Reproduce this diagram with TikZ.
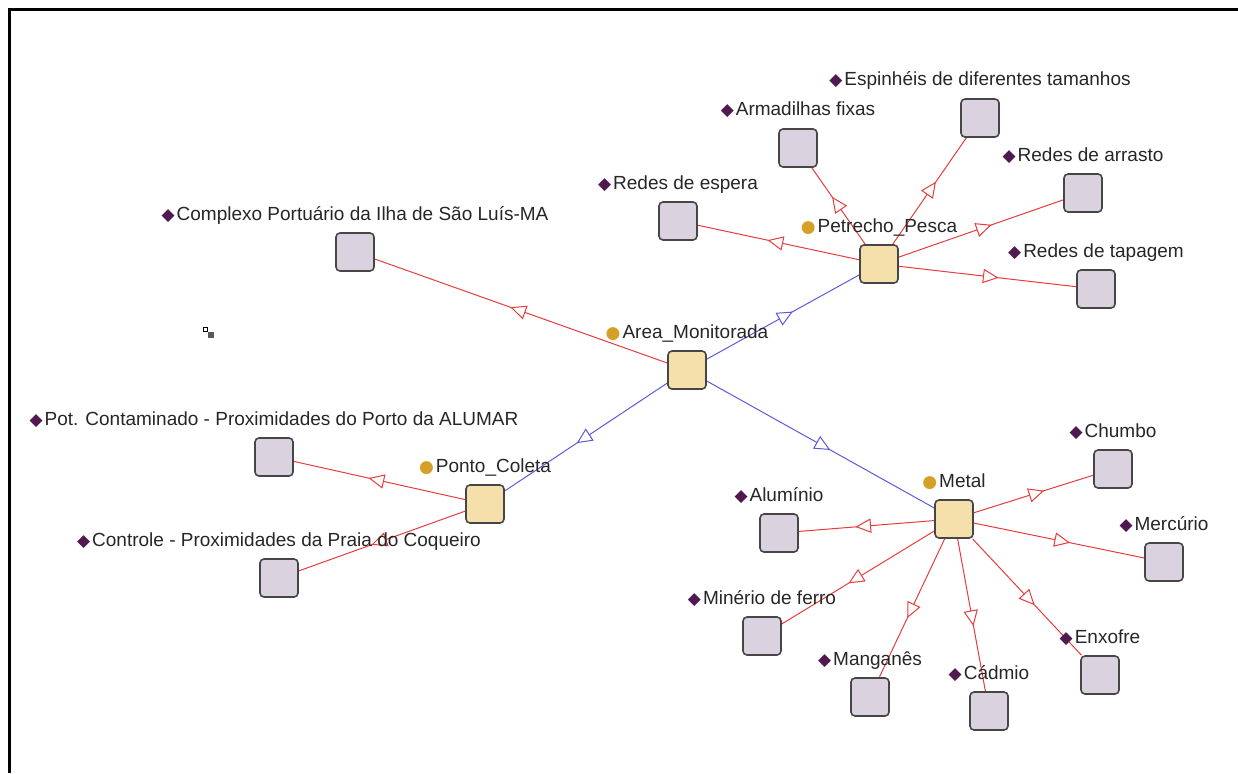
\documentclass[tikz,border=0pt]{standalone}
\usepackage{fontspec}
\setmainfont{Liberation Sans}
\newfontfamily\symf{DejaVu Sans}
\usetikzlibrary{arrows.meta,decorations.markings,backgrounds}
\definecolor{clsfill}{RGB}{245,224,172}
\definecolor{indfill}{RGB}{218,210,222}
\definecolor{bord}{RGB}{70,70,70}
\definecolor{redge}{RGB}{232,60,60}
\definecolor{bedge}{RGB}{90,90,220}
\definecolor{dotc}{RGB}{212,160,40}
\definecolor{diac}{RGB}{80,25,80}
\newcommand{\clab}[1]{{\symf\fontsize{17}{20}\selectfont\textcolor{dotc}{●}}\hspace{2pt}#1}
\newcommand{\ilab}[1]{{\symf\fontsize{17}{20}\selectfont\textcolor{diac}{◆}}\hspace{2pt}#1}
\tikzset{
  box/.style={draw=bord,line width=1.6pt,rounded corners=4pt,minimum size=38pt,inner sep=0pt},
  cls/.style={box,fill=clsfill},
  ind/.style={box,fill=indfill},
  lab/.style={font=\fontsize{19}{22}\selectfont,text height=14pt,text depth=4pt,inner sep=0pt,text=black!85,yshift=8pt},
  midarr/.style={postaction={decorate},decoration={markings,mark=at position 0.5 with {\draw[line width=1pt,fill=white,line join=miter] (-4pt,6.5pt) -- (10pt,0pt) -- (-4pt,-6.5pt) -- cycle;}}},
  redline/.style={draw=redge,line width=1pt,midarr},
  blueline/.style={draw=bedge,line width=1pt,midarr}
}
\begin{document}
\begin{tikzpicture}[x=1pt,y=-1pt]
\useasboundingbox (0,0) rectangle (1238,773);
\draw[line width=3pt] (1238,10) -- (9,10) -- (9,773);
% small icon
\draw[line width=0.8pt,draw={RGB:red,90;green,100;blue,150},fill=white] (203,327) rectangle (207.5,331.5);
\fill[black!65] (208,332) rectangle (213.5,337.5);
% classes
\node[cls,label={[lab]above:\clab{Area\_Monitorada}}] (area) at (687,370) {};
\node[cls,label={[lab]above:\clab{Petrecho\_Pesca}}] (pet) at (879,264) {};
\node[cls,label={[lab]above:\clab{Ponto\_Coleta}}] (ponto) at (485,504) {};
\node[cls,label={[lab]above:\clab{Metal}}] (metal) at (954,519) {};
% individuals
\node[ind,label={[lab]above:\ilab{Complexo Portuário da Ilha de São Luís-MA}}] (comp) at (355,252) {};
\node[ind,label={[lab]above:\ilab{Pot. Contaminado - Proximidades do Porto da ALUMAR}}] (pot) at (274,457) {};
\node[ind,label={[lab]above:\ilab{Controle - Proximidades da Praia do Coqueiro}}] (ctrl) at (279,578) {};
\node[ind,label={[lab]above:\ilab{Redes de espera}}] (esp) at (678,221) {};
\node[ind,label={[lab]above:\ilab{Armadilhas fixas}}] (arm) at (798,148) {};
\node[ind,label={[lab]above:\ilab{Espinhéis de diferentes tamanhos}}] (espi) at (980,118) {};
\node[ind,label={[lab]above:\ilab{Redes de arrasto}}] (arr) at (1083,193) {};
\node[ind,label={[lab]above:\ilab{Redes de tapagem}}] (tap) at (1096,289) {};
\node[ind,label={[lab]above:\ilab{Chumbo}}] (chu) at (1113,469) {};
\node[ind,label={[lab]above:\ilab{Mercúrio}}] (mer) at (1164,562) {};
\node[ind,label={[lab]above:\ilab{Enxofre}}] (enx) at (1100,675) {};
\node[ind,label={[lab]above:\ilab{Cádmio}}] (cad) at (989,711) {};
\node[ind,label={[lab]above:\ilab{Manganês}}] (man) at (870,697) {};
\node[ind,label={[lab]above:\ilab{Minério de ferro}}] (min) at (762,636) {};
\node[ind,label={[lab]above:\ilab{Alumínio}}] (alu) at (779,533) {};
\begin{scope}[on background layer]
\draw[blueline] (area) -- (pet);
\draw[blueline] (area) -- (ponto);
\draw[blueline] (area) -- (metal);
\draw[redline] (area) -- (comp);
\draw[redline] (pet) -- (esp);
\draw[redline] (pet) -- (arm);
\draw[redline] (pet) -- (espi);
\draw[redline] (pet) -- (arr);
\draw[redline] (pet) -- (tap);
\draw[redline] (ponto) -- (pot);
\draw[redline] (ponto) -- (ctrl);
\draw[redline] (metal) -- (chu);
\draw[redline] (metal) -- (mer);
\draw[redline] (metal) -- (enx);
\draw[redline] (metal) -- (cad);
\draw[redline] (metal) -- (man);
\draw[redline] (metal) -- (min);
\draw[redline] (metal) -- (alu);
\end{scope}
\end{tikzpicture}
\end{document}
